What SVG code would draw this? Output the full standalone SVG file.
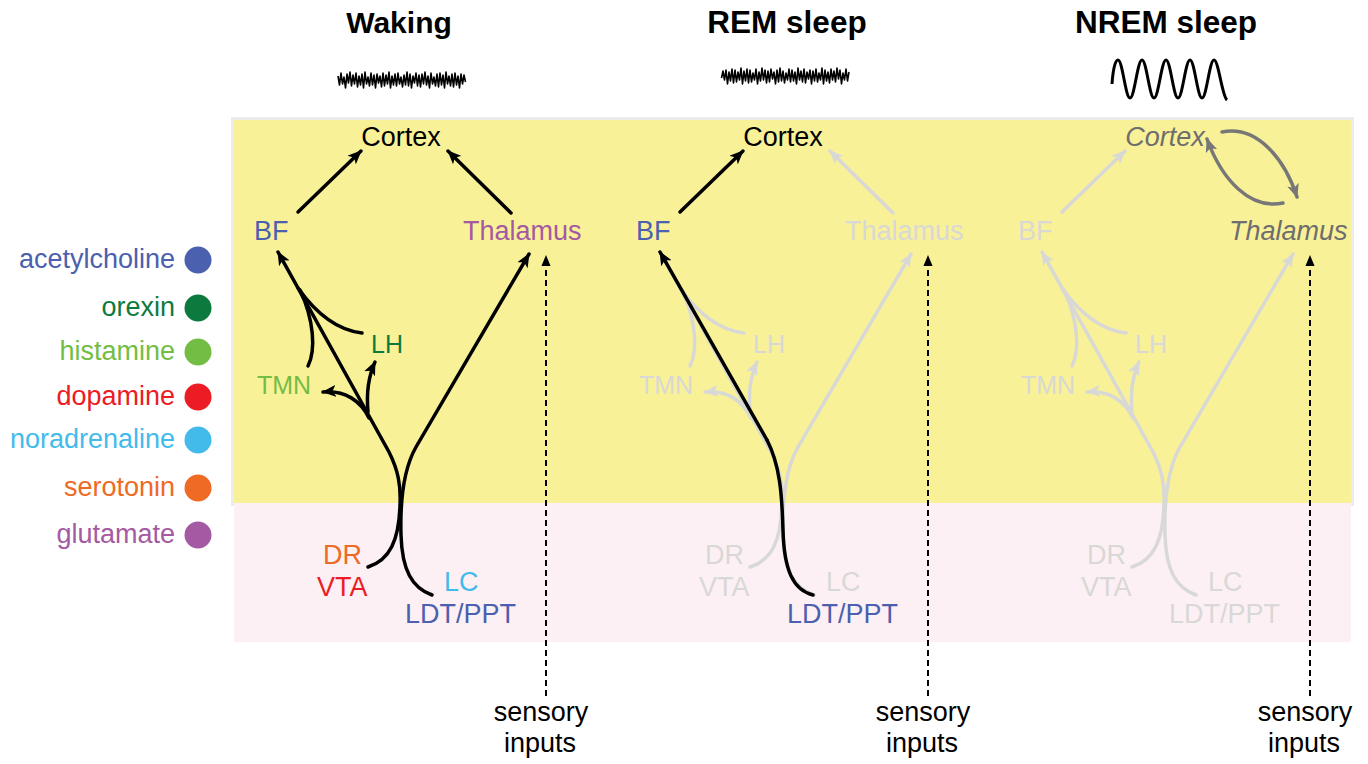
<svg xmlns="http://www.w3.org/2000/svg" width="1368" height="764" viewBox="0 0 1368 764">
<defs>
<style>
text{font-family:"Liberation Sans",Arial,sans-serif}
.t{font-size:30px;font-weight:bold;text-anchor:middle;fill:#000}
.t2{font-size:31.5px}
.n{font-size:27px}
.s{font-size:25px}
.lg{font-size:27px;text-anchor:end}
.sn{font-size:27px;text-anchor:middle;fill:#000}
.c{fill:none;stroke-width:3.5;stroke-linecap:round}
.k{stroke:#000}
.g{stroke:#d8d8d6}
.d{stroke:#777}
.sens{fill:none;stroke:#000;stroke-width:2;stroke-dasharray:6 4}
.wave{fill:none;stroke:#000;stroke-width:1.6;stroke-linejoin:round}
.ff{fill:#d8d8d6}
</style>
<marker id="mk" viewBox="0 0 14 12" refX="13" refY="6" markerWidth="14" markerHeight="12" markerUnits="userSpaceOnUse" orient="auto"><path d="M0,0 L14,6 L0,12 L3.5,6 z" fill="#000"/></marker>
<marker id="mg" viewBox="0 0 14 12" refX="13" refY="6" markerWidth="14" markerHeight="12" markerUnits="userSpaceOnUse" orient="auto"><path d="M0,0 L14,6 L0,12 L3.5,6 z" fill="#d8d8d6"/></marker>
<marker id="md" viewBox="0 0 14 12" refX="13" refY="6" markerWidth="14" markerHeight="12" markerUnits="userSpaceOnUse" orient="auto"><path d="M0,0 L14,6 L0,12 L3.5,6 z" fill="#777"/></marker>
<marker id="ms" viewBox="0 0 12 10" refX="11" refY="5" markerWidth="11" markerHeight="10" markerUnits="userSpaceOnUse" orient="auto"><path d="M0,0 L12,5 L0,10 z" fill="#000"/></marker>
<polyline id="eeg" class="wave" points="338,76 339.5,85 341,73 342.5,84 344,77 345.5,88 347,74 348.5,83 350,72 351.5,86 353,75 354.5,84 356,73 357.5,87 359,76 360.5,85 362,74 363.5,88 365,72 366.5,84 368,77 369.5,86 371,73 372.5,85 374,75 375.5,88 377,74 378.5,83 380,76 381.5,87 383,73 384.5,86 386,75 387.5,84 389,72 390.5,88 392,76 393.5,85 395,74 396.5,86 398,73 399.5,84 401,77 402.5,87 404,75 405.5,85 407,72 408.5,86 410,74 411.5,88 413,76 414.5,83 416,73 417.5,86 419,75 420.5,87 422,74 423.5,84 425,72 426.5,85 428,76 429.5,88 431,73 432.5,84 434,77 435.5,86 437,74 438.5,87 440,73 441.5,85 443,75 444.5,88 446,72 447.5,84 449,76 450.5,86 452,74 453.5,87 455,73 456.5,85 458,76 459.5,88 461,74 462.5,84 464,75 465.5,82"/>
</defs>

<g id="background">
<rect x="231" y="117" width="1123" height="389" fill="#ececec"/>
<rect x="234" y="120" width="1117" height="383" fill="#f9f198"/>
<rect x="234" y="503" width="1117" height="139" fill="#fcf0f4"/>
</g>

<g id="titles">
<text class="t" x="399" y="33">Waking</text>
<text class="t t2" x="787" y="33">REM sleep</text>
<text class="t t2" x="1166" y="33">NREM sleep</text>
</g>

<g id="eeg-traces">
<use href="#eeg"/>
<use href="#eeg" transform="translate(1187,-4) scale(-1,1)"/>
<path d="M1112,84 C1113,70 1115,60 1118,60 C1122.5,60 1125.5,98 1130,98 C1134.5,98 1137.5,60 1142,60 S1149.5,98 1154,98 S1161.5,60 1166,60 S1173.5,98 1178,98 S1185.5,60 1190,60 S1197.5,98 1202,98 S1209.5,60 1214,60 S1222,96 1227,100" fill="none" stroke="#000" stroke-width="3"/>
</g>

<g id="legend">
<g id="lg-ach"><text class="lg" x="175" y="268" fill="#4b60ae">acetylcholine</text><circle cx="198" cy="260" r="13.5" fill="#4b60ae"/></g>
<g id="lg-orexin"><text class="lg" x="175" y="316" fill="#0d7a3d">orexin</text><circle cx="198" cy="308" r="13.5" fill="#0d7a3d"/></g>
<g id="lg-histamine"><text class="lg" x="175" y="360" fill="#74bd45">histamine</text><circle cx="198" cy="352" r="13.5" fill="#74bd45"/></g>
<g id="lg-dopamine"><text class="lg" x="175" y="405" fill="#ec1c24">dopamine</text><circle cx="198" cy="397" r="13.5" fill="#ec1c24"/></g>
<g id="lg-noradrenaline"><text class="lg" x="175" y="448" fill="#43bbea">noradrenaline</text><circle cx="198" cy="440" r="13.5" fill="#43bbea"/></g>
<g id="lg-serotonin"><text class="lg" x="175" y="496" fill="#ee6a25">serotonin</text><circle cx="198" cy="488" r="13.5" fill="#ee6a25"/></g>
<g id="lg-glutamate"><text class="lg" x="175" y="543" fill="#a45aa2">glutamate</text><circle cx="198" cy="535" r="13.5" fill="#a45aa2"/></g>
</g>

<!-- WAKING -->
<g id="waking">
<g id="waking-connectors">
<path class="c k" d="M298,212 L361,151" marker-end="url(#mk)"/>
<path class="c k" d="M511,213 L448,151" marker-end="url(#mk)"/>
<path class="c k" d="M368,567 C390,560 399,540 400,505 C401,485 398,470 389,452 L278,252" marker-end="url(#mk)"/>
<path class="c k" d="M432,595 C412,588 402,570 401,535 C400,500 403,470 416,447 L529,254" marker-end="url(#mk)"/>
<path class="c k" d="M369,418 C361,401 345,390 323,392" marker-end="url(#mk)"/>
<path class="c k" d="M368,412 C366,390 369,375 375,362" marker-end="url(#mk)"/>
<path class="c k" d="M362,333 C335,330 315,312 298,288"/>
<path class="c k" d="M308,366 C316,350 314,320 300,290"/>
<path class="sens" d="M546,696 L546,256" marker-end="url(#ms)"/>
</g>
<g id="w-cortex"><text class="n" x="401" y="146" text-anchor="middle" fill="#000">Cortex</text></g>
<g id="w-bf"><text class="n" x="254" y="240" fill="#4b60ae">BF</text></g>
<g id="w-thalamus"><text class="n" x="463" y="240" fill="#a45aa2">Thalamus</text></g>
<g id="w-lh"><text class="s" x="371" y="353" fill="#0d7a3d">LH</text></g>
<g id="w-tmn"><text class="s" x="257" y="394" fill="#74bd45">TMN</text></g>
<g id="w-dr"><text class="n" x="323" y="564" fill="#ee6a25">DR</text></g>
<g id="w-vta"><text class="n" x="317" y="596" fill="#ec1c24">VTA</text></g>
<g id="w-lc"><text class="n" x="444" y="591" fill="#43bbea">LC</text></g>
<g id="w-ldt"><text class="n" x="405" y="623" fill="#4b60ae">LDT/PPT</text></g>
<g id="w-sensory"><text class="sn" x="541" y="721">sensory</text><text class="sn" x="540" y="752">inputs</text></g>
</g>

<!-- REM -->
<g id="rem" transform="translate(382,0)">
<g id="rem-connectors">
<path class="c g" d="M511,213 L448,151" marker-end="url(#mg)"/>
<path class="c g" d="M368,567 C390,560 399,540 400,505 C401,485 398,470 389,452 L278,252" marker-end="url(#mg)"/>
<path class="c g" d="M432,595 C412,588 402,570 401,535 C400,500 403,470 416,447 L529,254" marker-end="url(#mg)"/>
<path class="c g" d="M369,418 C361,401 345,390 323,392" marker-end="url(#mg)"/>
<path class="c g" d="M368,412 C366,390 369,375 375,362" marker-end="url(#mg)"/>
<path class="c g" d="M362,333 C335,330 315,312 298,288"/>
<path class="c g" d="M308,366 C316,350 314,320 300,290"/>
<path class="c k" d="M298,212 L361,151" marker-end="url(#mk)"/>
<path class="c k" stroke-width="4.5" d="M431,595 C411,590 402,570 401,530 C400,495 398,465 385,440"/>
<path class="c k" stroke-width="3" d="M385,440 L278,252" marker-end="url(#mk)"/>
<path class="sens" d="M546,696 L546,256" marker-end="url(#ms)"/>
</g>
<g id="r-cortex"><text class="n" x="401" y="146" text-anchor="middle" fill="#000">Cortex</text></g>
<g id="r-bf"><text class="n" x="254" y="240" fill="#4b60ae">BF</text></g>
<g id="r-thalamus"><text class="n ff" x="463" y="240">Thalamus</text></g>
<g id="r-lh"><text class="s ff" x="371" y="353">LH</text></g>
<g id="r-tmn"><text class="s ff" x="257" y="394">TMN</text></g>
<g id="r-dr"><text class="n ff" x="323" y="564">DR</text></g>
<g id="r-vta"><text class="n ff" x="317" y="596">VTA</text></g>
<g id="r-lc"><text class="n ff" x="444" y="591">LC</text></g>
<g id="r-ldt"><text class="n" x="405" y="623" fill="#4b60ae">LDT/PPT</text></g>
<g id="r-sensory"><text class="sn" x="541" y="721">sensory</text><text class="sn" x="540" y="752">inputs</text></g>
</g>

<!-- NREM -->
<g id="nrem" transform="translate(764,0)">
<g id="nrem-connectors">
<path class="c g" d="M298,212 L361,151" marker-end="url(#mg)"/>
<path class="c g" d="M368,567 C390,560 399,540 400,505 C401,485 398,470 389,452 L278,252" marker-end="url(#mg)"/>
<path class="c g" d="M432,595 C412,588 402,570 401,535 C400,500 403,470 416,447 L529,254" marker-end="url(#mg)"/>
<path class="c g" d="M369,418 C361,401 345,390 323,392" marker-end="url(#mg)"/>
<path class="c g" d="M368,412 C366,390 369,375 375,362" marker-end="url(#mg)"/>
<path class="c g" d="M362,333 C335,330 315,312 298,288"/>
<path class="c g" d="M308,366 C316,350 314,320 300,290"/>
<path class="c d" stroke-width="3" d="M458,132 C494,125 521,160 533,197" marker-end="url(#md)"/>
<path class="c d" stroke-width="3" d="M519,203 C486,210 458,180 443,139" marker-end="url(#md)"/>
<path class="sens" d="M546,696 L546,256" marker-end="url(#ms)"/>
</g>
<g id="n-cortex"><text class="n" x="401" y="146" text-anchor="middle" fill="#6e6e6e" font-style="italic">Cortex</text></g>
<g id="n-bf"><text class="n ff" x="254" y="240">BF</text></g>
<g id="n-thalamus"><text class="n" x="465" y="240" fill="#6e6e6e" font-style="italic">Thalamus</text></g>
<g id="n-lh"><text class="s ff" x="371" y="353">LH</text></g>
<g id="n-tmn"><text class="s ff" x="257" y="394">TMN</text></g>
<g id="n-dr"><text class="n ff" x="323" y="564">DR</text></g>
<g id="n-vta"><text class="n ff" x="317" y="596">VTA</text></g>
<g id="n-lc"><text class="n ff" x="444" y="591">LC</text></g>
<g id="n-ldt"><text class="n ff" x="405" y="623">LDT/PPT</text></g>
<g id="n-sensory"><text class="sn" x="541" y="721">sensory</text><text class="sn" x="540" y="752">inputs</text></g>
</g>
</svg>
